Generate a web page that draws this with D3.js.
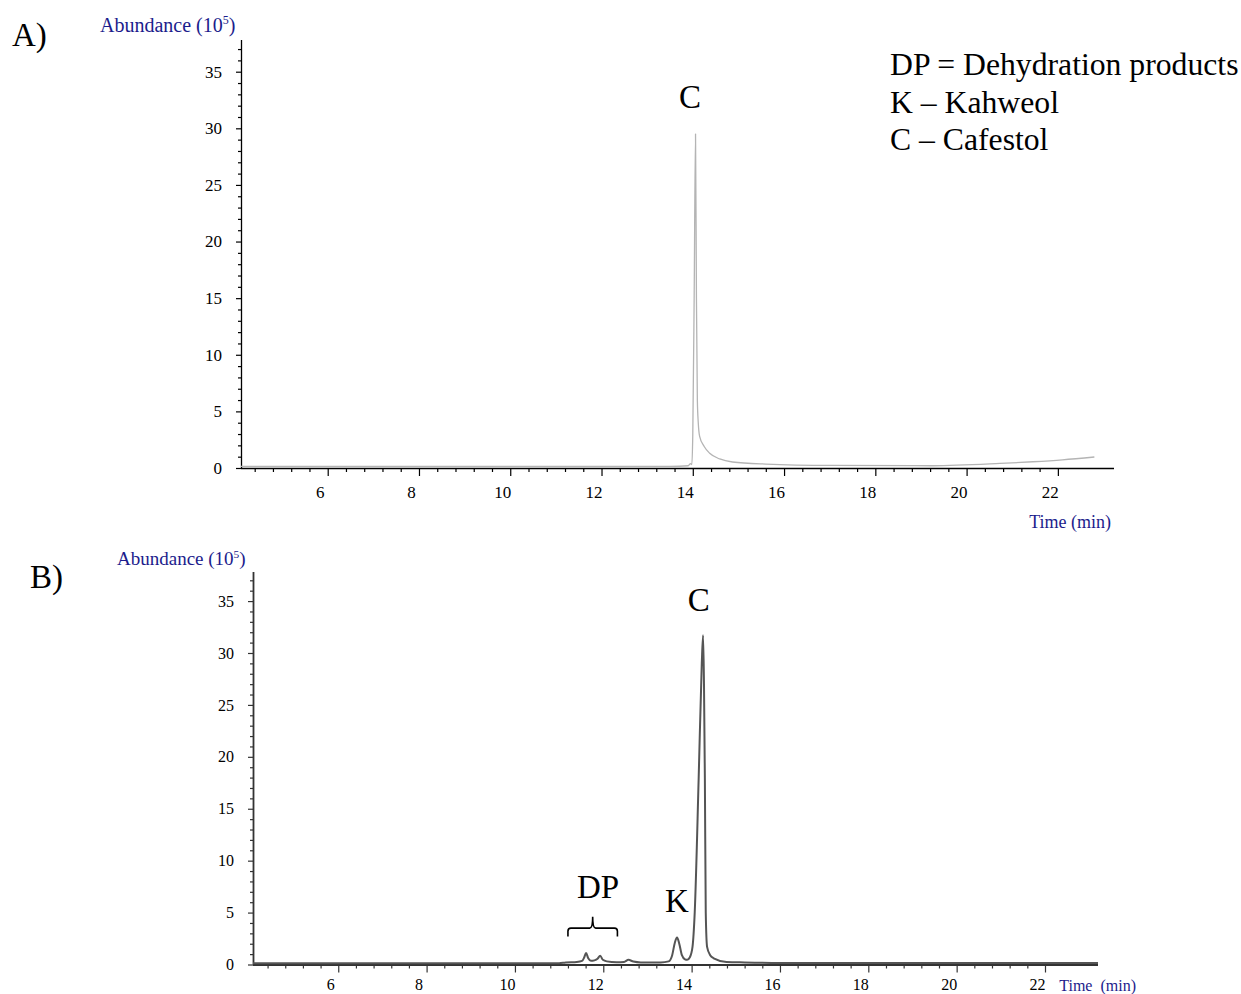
<!DOCTYPE html>
<html>
<head>
<meta charset="utf-8">
<script src="https://cdn.jsdelivr.net/npm/d3@7"></script>
<style>
  body { margin: 0; background: #fff; }
  svg text { font-family: "Liberation Serif", "Times New Roman", serif; }
</style>
</head>
<body>
<svg id="chart" width="1241" height="994"></svg>
<script>
// ---- Data (time in min, abundance in 10^5) ----
const timeA = [4.1, 6, 8, 10, 12, 13.5, 13.9, 13.95, 13.98, 14.0, 14.03, 14.06, 14.08, 14.1, 14.12, 14.15, 14.25, 14.37, 14.59, 14.87, 15.6, 17.07, 19.26, 20.73, 21.45, 22.1, 22.8];
const abundA = [0.14, 0.14, 0.14, 0.14, 0.14, 0.15, 0.2, 0.38, 0.3, 3, 15, 29.5, 15, 6, 4, 2.8, 1.9, 1.3, 0.8, 0.53, 0.35, 0.23, 0.2, 0.4, 0.55, 0.72, 0.97];

const timeB = [4.07, 6, 8, 10, 11.0, 11.15, 11.4, 11.52, 11.57, 11.61, 11.66, 11.72, 11.8, 11.87, 11.93, 11.99, 12.08, 12.3, 12.47, 12.57, 12.68, 12.85, 13.3, 13.48, 13.56, 13.62, 13.67, 13.72, 13.78, 13.85, 13.9, 13.96, 14.02, 14.07, 14.16, 14.23, 14.26, 14.28, 14.3, 14.32, 14.35, 14.42, 14.5, 14.79, 15.2, 16, 18, 20, 22, 23.2];
const abundB = [0.12, 0.12, 0.12, 0.12, 0.12, 0.2, 0.25, 0.35, 0.7, 1.1, 0.6, 0.35, 0.4, 0.55, 0.85, 0.45, 0.3, 0.22, 0.25, 0.45, 0.28, 0.2, 0.2, 0.3, 0.9, 2.1, 2.6, 2.0, 0.9, 0.5, 0.45, 0.7, 1.7, 5, 18, 29, 31.7, 27, 17.9, 5, 1.7, 0.9, 0.6, 0.25, 0.2, 0.15, 0.15, 0.15, 0.15, 0.15];

const xMajorTicks = [6, 8, 10, 12, 14, 16, 18, 20, 22];
const yMajorTicks = [0, 5, 10, 15, 20, 25, 30, 35];

// peak labels: [text, time, abundance]
const peakLabelsA = [["C", 13.94, 31.8]];
const peakLabelsB = [["C", 14.16, 34.0], ["K", 13.67, 5.1], ["DP", 11.88, 6.4]];
const braceB = { start: 11.2, end: 12.32, level: 3.5 };

const legendLines = ["DP = Dehydration products", "K \u2013 Kahweol", "C \u2013 Cafestol"];

// ---- Drawing ----
const svg = d3.select("#chart");

function panel(cfg) {
  const g = svg.append("g");
  const x = d3.scaleLinear().domain(cfg.xDomain).range(cfg.xRange);
  const y = d3.scaleLinear().domain(cfg.yDomain).range(cfg.yRange);
  const y0 = cfg.yRange[0];
  const x0 = cfg.xRange[0];

  // minor ticks every 0.4 min, anchored on 6
  const minorX = d3.range(0, 50).map(k => +(6 + (k - 10) * 0.4).toFixed(2))
    .filter(t => t > cfg.xDomain[0] && t <= cfg.xDomain[1] + 1e-6 && !xMajorTicks.includes(t));
  const minorY = d3.range(0, 38).filter(v => v % 5 !== 0 && v <= cfg.yDomain[1]);

  // X axis
  const xMinor = g.append("g").attr("transform", `translate(0,${y0})`)
    .call(d3.axisBottom(x).tickValues(minorX).tickSize(cfg.minorLen).tickFormat(""));
  const xMajor = g.append("g").attr("transform", `translate(0,${y0})`)
    .call(d3.axisBottom(x).tickValues(xMajorTicks).tickSize(cfg.majorLen).tickPadding(cfg.xPad).tickFormat(d3.format("d")));
  xMajor.selectAll("text").attr("dx", -8).attr("font-size", cfg.tickFont).attr("fill", "#000");
  [xMinor, xMajor].forEach(s => {
    s.selectAll(".tick line").attr("stroke", cfg.axisColor).attr("stroke-width", 1.2);
  });
  xMinor.select(".domain").remove();
  xMajor.select(".domain").attr("stroke", cfg.axisColor).attr("stroke-width", cfg.axisWidth)
    .attr("d", `M${x0},0.5H${cfg.xRange[1]}`);

  // Y axis
  const yMinor = g.append("g").attr("transform", `translate(${x0},0)`)
    .call(d3.axisLeft(y).tickValues(minorY).tickSize(cfg.yMinorLen).tickFormat(""));
  const yMajor = g.append("g").attr("transform", `translate(${x0},0)`)
    .call(d3.axisLeft(y).tickValues(yMajorTicks).tickSize(cfg.yMajorLen).tickPadding(19 - cfg.yMajorLen).tickFormat(d3.format("d")));
  yMajor.selectAll("text").attr("font-size", cfg.tickFont).attr("fill", "#000");
  [yMinor, yMajor].forEach(s => {
    s.selectAll(".tick line").attr("stroke", cfg.axisColor).attr("stroke-width", 1.2);
  });
  yMinor.select(".domain").remove();
  yMajor.select(".domain").attr("stroke", cfg.axisColor).attr("stroke-width", cfg.axisWidth)
    .attr("d", `M0.5,${cfg.yRange[0]}V${cfg.yRange[1]}`);

  // trace
  const pts = cfg.time.map((t, i) => [t, cfg.abund[i]]);
  g.append("path")
    .datum(pts)
    .attr("fill", "none")
    .attr("stroke", cfg.lineColor)
    .attr("stroke-width", cfg.lineWidth)
    .attr("stroke-linejoin", "round")
    .attr("d", d3.line().x(d => x(d[0])).y(d => y(d[1])).curve(d3.curveMonotoneX));

  // peak labels
  cfg.peaks.forEach(([txt, t, v]) => {
    g.append("text").attr("x", x(t)).attr("y", y(v))
      .attr("text-anchor", "middle").attr("font-size", 33).attr("fill", "#000").text(txt);
  });

  // Axis titles
  const ya = g.append("text").attr("x", cfg.yTitle[0]).attr("y", cfg.yTitle[1])
    .attr("font-size", cfg.titleFont).attr("fill", "#1c1c8c");
  ya.append("tspan").text("Abundance (10");
  ya.append("tspan").attr("font-size", cfg.titleFont * 0.6).attr("dy", -cfg.titleFont * 0.38).text("5");
  ya.append("tspan").attr("dy", cfg.titleFont * 0.38).text(")");

  g.append("text").attr("x", cfg.xTitle[0]).attr("y", cfg.xTitle[1])
    .attr("text-anchor", "end").attr("font-size", cfg.xTitleFont).attr("fill", "#1c1c8c")
    .style("white-space", "pre").text(cfg.xTitleText);

  g.append("text").attr("x", cfg.panelLabel[0]).attr("y", cfg.panelLabel[1])
    .attr("font-size", 33).attr("fill", "#000").text(cfg.panelLabel[2]);

  return { g, x, y };
}

panel({
  xDomain: [4.1, 23.23], xRange: [241, 1114],
  yDomain: [0, 37.8], yRange: [468, 40],
  time: timeA, abund: abundA,
  lineColor: "#b4b4b4", lineWidth: 1.3,
  axisColor: "#000", axisWidth: 1.3,
  minorLen: 4, majorLen: 8, yMinorLen: 3, yMajorLen: 5,
  xPad: 10, tickFont: 17,
  peaks: peakLabelsA,
  yTitle: [100, 32], titleFont: 20,
  xTitle: [1111, 528], xTitleText: "Time (min)", xTitleFont: 18,
  panelLabel: [12, 46, "A)"]
});

const pB = panel({
  xDomain: [4.07, 23.2], xRange: [253, 1098],
  yDomain: [0, 37.8], yRange: [964.5, 572],
  time: timeB, abund: abundB,
  lineColor: "#555", lineWidth: 2,
  axisColor: "#333", axisWidth: 1.8,
  minorLen: 4, majorLen: 8, yMinorLen: 3, yMajorLen: 5,
  xPad: 6, tickFont: 16,
  peaks: peakLabelsB,
  yTitle: [117, 565], titleFont: 19,
  xTitle: [1136, 991], xTitleText: "Time  (min)", xTitleFont: 16,
  panelLabel: [30, 588, "B)"]
});

// DP brace
{
  const { x, y, g } = pB;
  const x1 = x(braceB.start), x2 = x(braceB.end), xm = x((braceB.start + braceB.end) / 2);
  const yl = y(braceB.level), yd = y(braceB.level - 0.8), yu = y(braceB.level + 1.1);
  g.append("path")
    .attr("d", `M${x1},${yd} V${yl + 3} Q${x1},${yl} ${x1 + 3},${yl} H${xm - 3} Q${xm},${yl} ${xm},${yu}` +
               ` Q${xm},${yl} ${xm + 3},${yl} H${x2 - 3} Q${x2},${yl} ${x2},${yl + 3} V${yd}`)
    .attr("fill", "none").attr("stroke", "#000").attr("stroke-width", 1.6);
}

// Legend
svg.append("g").selectAll("text").data(legendLines).join("text")
  .attr("x", 890).attr("y", (d, i) => 75 + i * 37.5)
  .attr("font-size", 31.7).attr("fill", "#000").text(d => d);
</script>
</body>
</html>
